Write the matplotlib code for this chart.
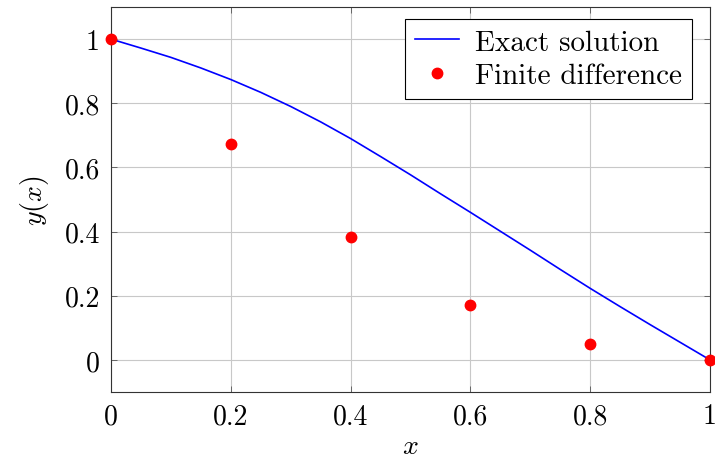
import matplotlib.pyplot as plt

# values
x_exact = [0.0, 0.05, 0.1, 0.15, 0.2, 0.25, 0.3, 0.35, 0.4, 0.45, 0.5,
           0.55, 0.6, 0.65, 0.7, 0.75, 0.8, 0.85, 0.9, 0.95, 1.0]
y_exact = [1.0, 0.972, 0.943, 0.910, 0.874, 0.834, 0.790, 0.742, 0.690, 0.634, 0.577,
           0.518, 0.460, 0.401, 0.342, 0.282, 0.223, 0.166, 0.110, 0.055, 0.0]

x_fd = [0.0, 0.2, 0.4, 0.6, 0.8, 1.0]
y_fd = [1.0, 0.672, 0.383, 0.172, 0.051, 0.0]

xticks = [0, 0.2, 0.4, 0.6, 0.8, 1]
yticks = [0, 0.2, 0.4, 0.6, 0.8, 1]
tick_labels = ['0', '0.2', '0.4', '0.6', '0.8', '1']

plt.rcParams['font.family'] = 'serif'
plt.rcParams['font.serif'] = ['cmr10']
plt.rcParams['mathtext.fontset'] = 'cm'
plt.rcParams['axes.formatter.use_mathtext'] = True
plt.rcParams['font.size'] = 20


def plot_solution():
    fig = plt.figure(figsize=(7.15, 4.6), dpi=100)
    ax = fig.add_axes([0.1552, 0.1457, 0.8378, 0.8369])

    ax.plot(x_exact, y_exact, color='blue', linewidth=1.2, label='Exact solution')
    ax.plot(x_fd, y_fd, 'o', color='red', markersize=7.5, linestyle='none',
            clip_on=False, zorder=5, label='Finite difference')

    ax.set_xlim(0, 1)
    ax.set_ylim(-0.1, 1.1)
    ax.set_xticks(xticks)
    ax.set_xticklabels(tick_labels)
    ax.set_yticks(yticks)
    ax.set_yticklabels(tick_labels)
    ax.tick_params(direction='in', top=True, right=True, length=4,
                   width=0.6, color='#555555', pad=8)
    ax.grid(True, color='#c8c8c8', linewidth=0.8)
    ax.set_axisbelow(True)
    for s in ax.spines.values():
        s.set_linewidth(0.8)
        s.set_color('#333333')

    ax.set_xlabel('$x$', labelpad=2)
    ax.set_ylabel('$y(x)$', labelpad=10)

    leg = ax.legend(loc='upper right', bbox_to_anchor=(0.970, 0.969),
                    borderaxespad=0, fancybox=False, framealpha=1,
                    edgecolor='black', handlelength=1.5, handletextpad=0.55,
                    borderpad=0.35, labelspacing=0.25, fontsize=21)
    leg.get_frame().set_linewidth(0.8)

    fig.savefig('out.png', dpi=100)


if __name__ == "__main__":
    plot_solution()
